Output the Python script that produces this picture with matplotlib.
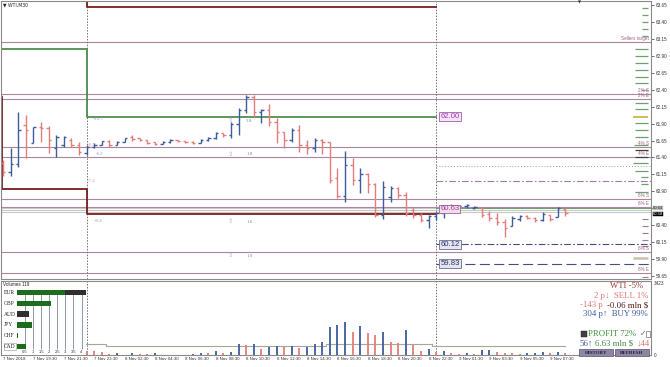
import matplotlib
matplotlib.use("Agg")
import matplotlib.pyplot as plt
from matplotlib.patches import Rectangle

# ---------------- data ----------------
opens = [61.32, 61.19, 61.30, 61.88, 61.61, 61.85, 61.83, 61.54, 61.58, 61.66,
         61.58, 61.47, 61.55, 61.58, 61.64, 61.58, 61.63, 61.70, 61.69, 61.66,
         61.63, 61.60, 61.63, 61.66, 61.64, 61.63, 61.61, 61.66, 61.69, 61.76,
         61.73, 61.89, 62.10, 62.29, 62.07, 62.10, 61.92, 61.78, 61.66, 61.80,
         61.58, 61.54, 61.66, 61.63, 61.10, 60.83, 61.29, 61.07, 61.16, 61.01,
         60.55, 60.82, 60.95, 60.85, 60.62, 60.55, 60.48, 60.54, 60.58, 60.65,
         60.67, 60.68, 60.65, 60.65, 60.57, 60.51, 60.45, 60.39, 60.49, 60.54,
         60.51, 60.48, 60.55, 60.52, 60.64]
highs = [61.36, 61.54, 62.07, 62.03, 61.85, 61.92, 61.86, 61.73, 61.72, 61.69,
         61.63, 61.58, 61.61, 61.64, 61.66, 61.64, 61.69, 61.73, 61.69, 61.66,
         61.63, 61.64, 61.67, 61.66, 61.64, 61.64, 61.67, 61.70, 61.78, 61.76,
         61.92, 62.13, 62.32, 62.32, 62.12, 62.19, 61.98, 61.78, 61.83, 61.88,
         61.66, 61.69, 61.67, 61.63, 61.24, 61.49, 61.39, 61.24, 61.17, 61.02,
         61.05, 60.98, 60.96, 60.89, 60.67, 60.58, 60.55, 60.59, 60.67, 60.71,
         60.70, 60.71, 60.68, 60.65, 60.61, 60.58, 60.49, 60.54, 60.55, 60.55,
         60.52, 60.59, 60.55, 60.67, 60.65]
lows = [61.13, 61.13, 61.26, 61.39, 61.61, 61.63, 61.47, 61.41, 61.55, 61.55,
        61.44, 61.44, 61.54, 61.58, 61.55, 61.58, 61.63, 61.64, 61.64, 61.60,
        61.58, 61.60, 61.61, 61.63, 61.61, 61.60, 61.61, 61.64, 61.67, 61.70,
        61.69, 61.73, 62.06, 62.00, 61.91, 61.86, 61.61, 61.54, 61.63, 61.48,
        61.45, 61.48, 61.45, 61.02, 60.80, 60.74, 60.99, 60.88, 60.88, 60.52,
        60.49, 60.74, 60.80, 60.54, 60.51, 60.45, 60.36, 60.48, 60.51, 60.59,
        60.64, 60.65, 60.64, 60.52, 60.46, 60.40, 60.23, 60.39, 60.46, 60.49,
        60.45, 60.46, 60.46, 60.52, 60.54]
closes = [61.19, 61.30, 61.80, 61.80, 61.85, 61.83, 61.66, 61.70, 61.70, 61.58,
          61.48, 61.55, 61.58, 61.64, 61.58, 61.63, 61.69, 61.67, 61.66, 61.61,
          61.60, 61.63, 61.66, 61.64, 61.63, 61.61, 61.66, 61.69, 61.76, 61.73,
          61.89, 62.10, 62.29, 62.07, 62.10, 61.92, 61.78, 61.66, 61.80, 61.58,
          61.54, 61.66, 61.63, 61.07, 60.83, 61.29, 61.07, 61.16, 61.01, 60.55,
          60.96, 60.95, 60.85, 60.58, 60.55, 60.48, 60.54, 60.58, 60.65, 60.68,
          60.68, 60.70, 60.67, 60.55, 60.51, 60.45, 60.36, 60.51, 60.54, 60.51,
          60.48, 60.57, 60.49, 60.65, 60.58]
volumes = [350, 500, 900, 700, 400, 450, 380, 300, 260, 220,
           240, 200, 170, 150, 40, 80, 20, 80, 48, 45,
           80, 20, 10, 15, 12, 25, 90, 80, 190, 109,
           157, 508, 475, 523, 285, 394, 442, 394, 442, 347,
           394, 523, 632, 1344, 1425, 1582, 1107, 1378, 1031, 950,
           1078, 632, 584, 1188, 475, 204, 285, 150, 170, 110,
           60, 90, 70, 220, 260, 150, 100, 80, 70, 90,
           100, 130, 100, 140, 110]
volume_ma = [520] * 14 + [440] * 29 + [520] * 11 + [500] * 3 + [430] * 18

date_labels = ["7 Nov 2018", "7 Nov 19:30", "7 Nov 21:30", "7 Nov 23:30", "8 Nov 02:30",
               "8 Nov 04:30", "8 Nov 06:30", "8 Nov 08:30", "8 Nov 10:30", "8 Nov 12:30",
               "8 Nov 14:30", "8 Nov 16:30", "8 Nov 18:30", "8 Nov 20:30", "8 Nov 22:30",
               "9 Nov 01:30", "9 Nov 03:30", "9 Nov 05:30", "9 Nov 07:30"]
date_tick_bars = [0, 4, 8, 12, 16, 20, 24, 28, 32, 36, 40, 44, 48, 52, 56, 60, 64, 68, 72]
price_ticks = [59.65, 59.90, 60.15, 60.40, 60.65, 60.90, 61.15, 61.40, 61.65, 61.90,
               62.15, 62.40, 62.65, 62.90, 63.15, 63.40, 63.65]
# the 60.65 label is hidden under the bid/ask boxes in the reference
price_tick_labels = ["59.65", "59.90", "60.15", "60.40", "", "60.90", "61.15", "61.40",
                     "61.65", "61.90", "62.15", "62.40", "62.65", "62.90", "63.15", "63.40", "63.65"]
volume_ticks = [0, 3423]

day_bars = [11, 57]
green_levels = [63.00, 62.00]
darkred_low_levels = [62.29, 60.93, 60.56]
darkred_high_levels = [63.62]

pct_names = ["Sellers target", "2% S", "2% E", "4% S", "4% E", "6% S", "6% E", "8% S", "8% E"]
pct_prices = [63.10, 62.34, 62.26, 61.55, 61.41, 60.79, 60.67, 60.00, 59.69]
gray_band = [60.65, 60.62, 60.59]
green_day2_level = 60.66
dotted_level = 61.27
dashdot_level = 61.05
target_texts = ["62.00", "60.63", "60.12", "59.83"]
target_prices = [62.00, 60.64, 60.12, 59.83]
bid_price, ask_price = 60.58, 60.64

ann_texts = ["+10.7", "-8.2", "-6.2", "-7.4", "+9.4"]
ann_bars = [11.8, 11.2, 12.2, 11.2, 11.9]
ann_prices = [61.97, 61.58, 61.45, 61.05, 60.46]
ann_colors = ["#7f9fcf", "#e090b0", "#7f9fcf", "#c8a0d8", "#7f9fcf"]
arrow_values = ["3.8", "1.8", "1.6", "1.9"]
arrow_prices = [61.94, 61.45, 60.45, 59.95]

ladder_prices = [63.61, 63.50, 63.40, 63.30, 63.19,
                 63.00, 62.90, 62.79, 62.69, 62.59, 62.50, 62.20, 62.11, 61.91, 61.80, 61.70,
                 61.58, 61.32, 61.20, 60.89,
                 62.40, 61.99, 61.51, 61.41, 61.11, 61.01,
                 60.49, 60.39, 60.28, 60.18, 60.09, 59.63, 59.91]
ladder_lens = [0.8, 0.8, 0.8, 0.8, 0.8,
               1.7, 1.7, 1.7, 1.7, 1.7, 1.7, 1.7, 1.7, 1.7, 1.7, 1.7,
               1.9, 2.0, 1.7, 1.7,
               0.9, 2.0, 1.7, 1.7, 1.0, 1.0,
               0.8, 0.8, 0.8, 0.8, 0.8, 0.8, 2.0]
ladder_kinds = ["g"] * 20 + ["s", "y", "d", "d", "g", "g"] + ["m"] * 6 + ["b"]

currencies = ["EUR", "GBP", "AUD", "JPY", "CHF", "CAD"]
cur_green = [3.0, 2.1, 0.0, 0.94, 0.06, 0.56]
cur_dark = [1.375, 0.0, 0.75, 0.0, 0.0, 0.0]
cur_grid = [0.5, 1, 1.5, 2, 2.5, 3, 3.5, 4]
cur_grid_labels = ["0.5", "1", "1.5", "2", "2.5", "3", "3.5", "4"]

# ---------------- styling ----------------
UP = "#3d5c9c"
DOWN = "#e67b7b"
MAUVE = "#a9869c"
GREEN = "#4f8f4f"
DARKRED = "#7a1c1c"
BAND = "#c8c8c8"
SANS = ["Liberation Sans", "DejaVu Sans"]
SERIF = ["Liberation Serif", "DejaVu Serif", "DejaVu Sans"]

W, H = 670.0, 367.0
def rect(x0, y0, x1, y1):
    return [x0 / W, 1 - y1 / H, (x1 - x0) / W, (y1 - y0) / H]
def fpos(px, py):
    return px / W, 1 - py / H

fig = plt.figure(figsize=(6.7, 3.67), dpi=100)
fig.patch.set_facecolor("white")

ax = fig.add_axes(rect(1, 1, 651, 279))
axv = fig.add_axes(rect(1, 281, 651, 355))
XL, XR = -0.263, 85.26
YB, YT = 59.606, 63.709
for a in (ax, axv):
    a.set_xlim(XL, XR)
    for s in a.spines.values():
        s.set_color("#8a8a8a")
        s.set_linewidth(0.8)
ax.set_ylim(YB, YT)
axv.set_ylim(0, 3515)

n = len(opens)
xs = list(range(n))
cols = [UP if c >= o else DOWN for o, c in zip(opens, closes)]

# horizontal levels
for p in pct_prices:
    ax.axhline(p, color=MAUVE, lw=0.8, zorder=1)
for p in gray_band:
    ax.axhline(p, color=BAND, lw=0.8, zorder=1)
for name, p in zip(pct_names, pct_prices):
    ax.text(85.0, p + 0.012, name, color="#a0607e", fontsize=3.3, ha="right", va="bottom",
            family=SANS, zorder=6)

# period separators
for b in day_bars:
    ax.axvline(b, color="#707070", lw=0.7, ls=(0, (1.5, 1.5)), zorder=1)
    axv.axvline(b, color="#707070", lw=0.7, ls=(0, (1.5, 1.5)), zorder=1)

# day level steps
d0, d1 = day_bars
ax.plot([XL, d0, d0, d1], [green_levels[0], green_levels[0], green_levels[1], green_levels[1]],
        color=GREEN, lw=1.3, zorder=2)
ax.plot([XL + 0.15, XL + 0.15, d0, d0, d1],
        [darkred_low_levels[0], darkred_low_levels[1], darkred_low_levels[1],
         darkred_low_levels[2], darkred_low_levels[2]], color=DARKRED, lw=1.3, zorder=2)
ax.plot([d0, d0, d1], [YT, darkred_high_levels[0], darkred_high_levels[0]],
        color=DARKRED, lw=1.3, zorder=2)
ax.plot([d1, XR], [green_day2_level, green_day2_level], color="#6aa06a", lw=0.7, zorder=2)
ax.plot([d1, XR], [dotted_level, dotted_level], color="#b090a8", lw=0.7,
        ls=(0, (1, 2)), zorder=2)
ax.plot([d1, XR], [dashdot_level, dashdot_level], color="#a07aa8", lw=0.8,
        ls=(0, (6, 2, 1.5, 2)), zorder=2)
ax.plot([d1, XR], [target_prices[2], target_prices[2]], color="#4a4a8a", lw=0.8,
        ls=(0, (6, 2, 1.5, 2)), zorder=2)
ax.plot([d1, XR], [target_prices[3], target_prices[3]], color="#4a4a8a", lw=0.8,
        ls=(0, (9, 4)), zorder=2)

# ladder on the right
kind_col = {"g": "#6f9f6f", "s": "#a0a0a0", "y": "#c8b040", "d": "#404040",
            "m": "#a07890", "b": "#c8c0a8"}
kind_lw = {"g": 0.9, "s": 0.9, "y": 1.2, "d": 0.9, "m": 0.8, "b": 1.8}
for p, L, k in zip(ladder_prices, ladder_lens, ladder_kinds):
    ax.plot([84.9 - L, 84.9], [p, p], color=kind_col[k], lw=kind_lw[k], zorder=3,
            solid_capstyle="butt")

# OHLC bars
ax.vlines(xs, lows, highs, colors=cols, lw=1.0, zorder=4)
ax.hlines(opens, [x - 0.32 for x in xs], xs, colors=cols, lw=1.0, zorder=4)
ax.hlines(closes, xs, [x + 0.32 for x in xs], colors=cols, lw=1.0, zorder=4)

# target labels
tl_style = [("#9a40a8", "#f4e4f6", "#a060b0"), ("#a04890", "#f0dcec", "#a060a0"),
            ("#30306a", "#e4e6ee", "#6a6a9a"), ("#30306a", "#e4e6ee", "#6a6a9a")]
for t, p, (tc, fc, ec) in zip(target_texts, target_prices, tl_style):
    ax.text(57.55, p, t, color=tc, fontsize=5.6, ha="left", va="center", family=SANS,
            zorder=7, bbox=dict(boxstyle="square,pad=0.12", fc=fc, ec=ec, lw=0.6))

# annotations
for t, b, p, c in zip(ann_texts, ann_bars, ann_prices, ann_colors):
    ax.text(b, p, t, color=c, fontsize=3.4, ha="left", va="center", family=SERIF, zorder=6)
for v, p in zip(arrow_values, arrow_prices):
    ax.text(29.9, p, "\u21e7", color="#a8a2d2", fontsize=4.6, ha="center", va="center",
            family=["DejaVu Sans"], zorder=6)
    ax.text(32.0, p, v, color="#8088c0", fontsize=3.6, ha="left", va="center",
            family=SERIF, zorder=6)

# price axis
ax.yaxis.tick_right()
ax.set_yticks(price_ticks)
ax.set_yticklabels(price_tick_labels)
ax.tick_params(axis="y", labelsize=3.3, length=2, width=0.5, pad=1.5, colors="#333333")
ax.set_xticks([])
for t in ax.get_yticklabels():
    t.set_family(SANS)
def yfrac(p):
    return (p - YB) / (YT - YB)
ax.text(1.003, yfrac(ask_price) + 0.004, "60.64", transform=ax.transAxes,
        fontsize=3.0, color="#222222", ha="left", va="center",
        family=SANS, zorder=7,
        bbox=dict(boxstyle="square,pad=0.05", fc="#bdbdbd", ec="#bdbdbd", lw=0.3),
        clip_on=False)
ax.text(1.003, yfrac(bid_price) - 0.004, "60.58", transform=ax.transAxes,
        fontsize=3.0, color="white", ha="left", va="center", family=SANS, zorder=8,
        bbox=dict(boxstyle="square,pad=0.05", fc="black", ec="black", lw=0.3), clip_on=False)

# volume panel
vcols = [UP] + [UP if volumes[i] >= volumes[i - 1] else DOWN for i in range(1, n)]
axv.vlines(xs, 0, volumes, colors=vcols, lw=1.3, zorder=3)
axv.plot(xs, volume_ma, color="#a6a696", lw=0.8, drawstyle="steps-mid", zorder=2)
axv.yaxis.tick_right()
axv.set_yticks(volume_ticks)
axv.set_yticklabels([str(v) for v in volume_ticks])
axv.tick_params(axis="y", labelsize=3.3, length=0, pad=2, colors="#333333")
axv.set_xticks(date_tick_bars)
axv.set_xticklabels(date_labels)
axv.tick_params(axis="x", labelsize=3.2, length=0, pad=1.6, colors="#333333")
for t in axv.get_xticklabels():
    t.set_ha("left")
    t.set_family(SANS)
for t in axv.get_yticklabels():
    t.set_family(SANS)

# currency strength overlay
axc = fig.add_axes(rect(1.6, 287, 86.2, 354.5))
axc.set_facecolor("white")
axc.set_xlim(-0.9375, 4.2875)
axc.set_ylim(5.74, -0.509)
for s in axc.spines.values():
    s.set_visible(False)
axc.set_xticks([])
axc.set_yticks([])
rows = list(range(len(currencies)))
axc.vlines(cur_grid, -0.25, 5.2, colors="#8c98b4", lw=0.7, zorder=1)
axc.barh(rows, cur_green, height=0.5, color="#1d6b1d", zorder=2)
axc.barh(rows, cur_dark, left=cur_green, height=0.5, color="#2f2f2f", zorder=2)
for r, c in zip(rows, currencies):
    kw = {}
    if c == "CAD":
        kw["bbox"] = dict(boxstyle="square,pad=0.1", fc="none", ec="#909090", lw=0.4)
    axc.text(-0.78, r, c, fontsize=4.0, family=SERIF, ha="left", va="center",
             color="#202020", zorder=3, **kw)
for g, gl in zip(cur_grid, cur_grid_labels):
    axc.text(g, 5.55, gl, fontsize=3.0, ha="center", va="center", family=SANS,
             color="#333333", zorder=3)

# top-left / panel labels
fig.text(*fpos(3, 5), "\u25bc WTI,M30", fontsize=3.3, family=["DejaVu Sans"],
         ha="left", va="center", color="#222222")
fig.text(*fpos(3, 285), "Volumes 119", fontsize=3.3, family=SANS, ha="left", va="center",
         color="#222222", zorder=10)
fig.text(*fpos(579, 3), "\u25bc", fontsize=2.8, family=["DejaVu Sans"], ha="center",
         va="center", color="#333333")

# info panel
def ftxt(px, py, s, color, ha="right", size=6.3, weight="normal"):
    fig.text(*fpos(px, py), s, color=color, fontsize=size, family=SERIF, ha=ha,
             va="center", weight=weight, zorder=10)

ftxt(643, 286, "WTI -5%", "#a03a3a")
ftxt(648, 296, "2 p\u2193  SELL 1%", "#e07474")
ftxt(648, 305, "-0.06 mln $", "#5a1414")
ftxt(603, 305, "-143 p", "#e07474")
ftxt(648, 314, "304 p\u2191  BUY 99%", "#3a5a9c")
ftxt(588, 334, "PROFIT 72%", "#3f8f3f", ha="left")
ftxt(646, 334, "\u2713", "#707070", size=5.5)
ftxt(579, 344, "56\u2191", "#3a5a9c", ha="left")
ftxt(633, 344, "6.63 mln $", "#3f8f3f")
ftxt(650, 344, "\u219344", "#e07474")
fig.patches.append(Rectangle(fpos(581, 337), 6 / W, 6 / H, transform=fig.transFigure,
                             fc="#404040", ec="#202020", lw=0.3, zorder=10))
fig.patches.append(Rectangle(fpos(646, 337), 3.5 / W, 6 / H, transform=fig.transFigure,
                             fc="white", ec="#505050", lw=0.4, zorder=10))
for x0, x1, lab in [(579, 613, "HISTORY"), (615, 649, "REFRESH")]:
    fig.patches.append(Rectangle(fpos(x0, 356), (x1 - x0) / W, 7 / H,
                                 transform=fig.transFigure, fc="#8f86a0", ec="#5a5070",
                                 lw=0.5, zorder=10))
    fig.text(*fpos((x0 + x1) / 2, 352.5), lab, fontsize=3.6, family=SERIF, weight="bold",
             ha="center", va="center", color="#1e1e4e", zorder=11)

fig.savefig("out.png", dpi=100, facecolor="white")
